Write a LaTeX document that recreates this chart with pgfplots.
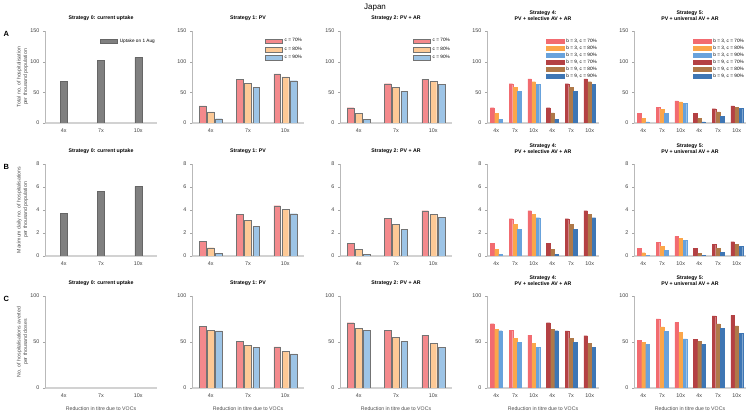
\documentclass[border=0pt]{standalone}
\usepackage{pgfplots}
\pgfplotsset{compat=1.18}
\usepackage{fontspec}
\setmainfont{Liberation Sans}
\definecolor{gbar}{RGB}{128,128,128}
\definecolor{lr}{RGB}{244,137,140}
\definecolor{lo}{RGB}{253,201,150}
\definecolor{lb}{RGB}{157,196,230}
\definecolor{rA}{RGB}{242,107,112}
\definecolor{oA}{RGB}{251,166,74}
\definecolor{bA}{RGB}{104,162,220}
\definecolor{rB}{RGB}{180,65,68}
\definecolor{oB}{RGB}{175,121,73}
\definecolor{bB}{RGB}{62,118,180}
\pgfplotsset{
  base/.style={scale only axis, width=112pt, height=92pt,
    axis x line*=bottom, axis y line*=left, xmin=0.5, ymin=0,
    xtick style={draw=none}, tick align=outside, major tick length=2pt,
    ytick style={color=gray!70},
    y axis line style={gray!55, line width=0.4pt},
    x axis line style={gray!35, line width=1.4pt},
    ticklabel style={font=\fontsize{5.4}{6}\selectfont, color=black!75},
    /pgf/number format/assume math mode=true,
    title style={font=\bfseries\fontsize{5.2}{6.2}\selectfont, align=center, at={(0.5,1)}, anchor=south, yshift=0.5pt},
    xlabel style={font=\fontsize{5.2}{6}\selectfont, color=black!70, at={(axis description cs:0.5,-0.225)}, anchor=center},
    ylabel style={font=\fontsize{5.2}{6.4}\selectfont, color=black!70, align=center, at={(axis description cs:-0.2,0.5)}, anchor=center},
    legend style={draw=none, fill=none, font=\fontsize{4.7}{5.2}\selectfont, at={(1,0.94)}, anchor=north east, row sep=-0.6pt, inner sep=0pt, cells={anchor=west}},
    legend image code/.code={\draw[#1] (0pt,-2.4pt) rectangle (17pt,2.4pt);},
  },
  leg6/.style={legend style={row sep=-1.9pt}, legend image code/.code={\draw[##1] (0pt,-2.0pt) rectangle (18pt,2.0pt);}},
  three/.style={base, xmax=3.5, xtick={1,2,3}, xticklabels={4x,7x,10x}},
  six/.style={base, xmax=6.5, xtick={1,2,3,4,5,6}, xticklabels={4x,7x,10x,4x,7x,10x}},
  bw/.style={ybar, bar width=0.18},
  gb/.style={ybar, bar width=0.19, bar shift=0, fill=gbar, draw=black!60, line width=0.3pt},
  pr/.style={bw, bar shift=-0.22, fill=lr, draw=black!55, line width=0.3pt},
  po/.style={bw, bar shift=0, fill=lo, draw=black!55, line width=0.3pt},
  pb/.style={bw, bar shift=0.22, fill=lb, draw=black!55, line width=0.3pt},
  qrA/.style={ybar, bar width=0.19, bar shift=-0.22, fill=rA, draw=rA, line width=0.1pt},
  qoA/.style={ybar, bar width=0.19, bar shift=0, fill=oA, draw=oA, line width=0.1pt},
  qbA/.style={ybar, bar width=0.19, bar shift=0.22, fill=bA, draw=bA, line width=0.1pt},
  qrB/.style={ybar, bar width=0.19, bar shift=-0.22, fill=rB, draw=rB, line width=0.1pt},
  qoB/.style={ybar, bar width=0.19, bar shift=0, fill=oB, draw=oB, line width=0.1pt},
  qbB/.style={ybar, bar width=0.19, bar shift=0.22, fill=bB, draw=bB, line width=0.1pt},
}
\begin{document}
\begin{tikzpicture}[x=1pt,y=1pt]
\useasboundingbox (0pt,0pt) rectangle (750pt,411pt);
\node[font=\fontsize{8}{9}\selectfont] at (375pt,403pt) {Japan};
\node[font=\bfseries\fontsize{7.5}{8}\selectfont, anchor=north west] at (0pt,383pt) {A};
\node[font=\bfseries\fontsize{7.5}{8}\selectfont, anchor=north west] at (0pt,250pt) {B};
\node[font=\bfseries\fontsize{7.5}{8}\selectfont, anchor=north west] at (0pt,118pt) {C};

% ===== Row A =====
\begin{axis}[three, at={(45pt,288pt)}, anchor=south west, ymax=150, ytick={0,50,100,150},
  title={Strategy 0: current uptake},
  ylabel={Total no. of hospitalisation\\per thousand population}]
\addplot[gb] coordinates {(1,68) (2,102) (3,107)};
\addlegendentry{Uptake on 1 Aug}
\end{axis}
\begin{axis}[three, at={(192pt,288pt)}, anchor=south west, ymax=150, ytick={0,50,100,150},
  title={Strategy 1: PV}]
\addplot[pr] coordinates {(1,28) (2,71) (3,80)};
\addplot[po] coordinates {(1,18) (2,65) (3,75)};
\addplot[pb] coordinates {(1,7) (2,58) (3,69)};
\legend{c = 70\%, c = 80\%, c = 90\%}
\end{axis}
\begin{axis}[three, at={(340pt,288pt)}, anchor=south west, ymax=150, ytick={0,50,100,150},
  title={Strategy 2: PV + AR}]
\addplot[pr] coordinates {(1,25) (2,64) (3,71.5)};
\addplot[po] coordinates {(1,16) (2,58) (3,67.5)};
\addplot[pb] coordinates {(1,6) (2,52) (3,63)};
\legend{c = 70\%, c = 80\%, c = 90\%}
\end{axis}
\begin{axis}[six, leg6, at={(487pt,288pt)}, anchor=south west, ymax=150, ytick={0,50,100,150},
  title={Strategy 4:\\PV + selective AV + AR}]
\addplot[qrA] coordinates {(1,25) (2,64) (3,72)};
\addplot[qoA] coordinates {(1,16) (2,58) (3,67.5)};
\addplot[qbA] coordinates {(1,6) (2,52) (3,63)};
\addplot[qrB] coordinates {(4,25) (5,64) (6,72)};
\addplot[qoB] coordinates {(4,16.5) (5,58) (6,67.5)};
\addplot[qbB] coordinates {(4,6) (5,52) (6,63)};
\legend{{b = 3, c = 70\%},{b = 3, c = 80\%},{b = 3, c = 90\%},{b = 9, c = 70\%},{b = 9, c = 80\%},{b = 9, c = 90\%}}
\end{axis}
\begin{axis}[six, leg6, at={(634pt,288pt)}, anchor=south west, ymax=150, ytick={0,50,100,150},
  title={Strategy 5:\\PV + universal AV + AR}]
\addplot[qrA] coordinates {(1,16) (2,26) (3,36)};
\addplot[qoA] coordinates {(1,8) (2,22.5) (3,34.5)};
\addplot[qbA] coordinates {(1,2) (2,16) (3,32)};
\addplot[qrB] coordinates {(4,15.5) (5,23.5) (6,28)};
\addplot[qoB] coordinates {(4,8) (5,18) (6,26)};
\addplot[qbB] coordinates {(4,2) (5,11) (6,24)};
\legend{{b = 3, c = 70\%},{b = 3, c = 80\%},{b = 3, c = 90\%},{b = 9, c = 70\%},{b = 9, c = 80\%},{b = 9, c = 90\%}}
\end{axis}

% ===== Row B =====
\begin{axis}[three, at={(45pt,155pt)}, anchor=south west, ymax=8, ytick={0,2,4,6,8},
  title={Strategy 0: current uptake},
  ylabel={Maximum daily no. of hospitalisations\\per thousand population}]
\addplot[gb] coordinates {(1,3.7) (2,5.6) (3,6.05)};
\end{axis}
\begin{axis}[three, at={(192pt,155pt)}, anchor=south west, ymax=8, ytick={0,2,4,6,8},
  title={Strategy 1: PV}]
\addplot[pr] coordinates {(1,1.3) (2,3.6) (3,4.37)};
\addplot[po] coordinates {(1,0.72) (2,3.12) (3,4.03)};
\addplot[pb] coordinates {(1,0.23) (2,2.56) (3,3.68)};
\end{axis}
\begin{axis}[three, at={(340pt,155pt)}, anchor=south west, ymax=8, ytick={0,2,4,6,8},
  title={Strategy 2: PV + AR}]
\addplot[pr] coordinates {(1,1.12) (2,3.25) (3,3.94)};
\addplot[po] coordinates {(1,0.6) (2,2.74) (3,3.63)};
\addplot[pb] coordinates {(1,0.14) (2,2.3) (3,3.34)};
\end{axis}
\begin{axis}[six, at={(487pt,155pt)}, anchor=south west, ymax=8, ytick={0,2,4,6,8},
  title={Strategy 4:\\PV + selective AV + AR}]
\addplot[qrA] coordinates {(1,1.12) (2,3.25) (3,3.94)};
\addplot[qoA] coordinates {(1,0.6) (2,2.76) (3,3.63)};
\addplot[qbA] coordinates {(1,0.14) (2,2.3) (3,3.34)};
\addplot[qrB] coordinates {(4,1.12) (5,3.25) (6,3.94)};
\addplot[qoB] coordinates {(4,0.6) (5,2.76) (6,3.62)};
\addplot[qbB] coordinates {(4,0.14) (5,2.3) (6,3.34)};
\end{axis}
\begin{axis}[six, at={(634pt,155pt)}, anchor=south west, ymax=8, ytick={0,2,4,6,8},
  title={Strategy 5:\\PV + universal AV + AR}]
\addplot[qrA] coordinates {(1,0.69) (2,1.18) (3,1.7)};
\addplot[qoA] coordinates {(1,0.29) (2,0.86) (3,1.53)};
\addplot[qbA] coordinates {(1,0.06) (2,0.49) (3,1.38)};
\addplot[qrB] coordinates {(4,0.69) (5,1.04) (6,1.24)};
\addplot[qoB] coordinates {(4,0.26) (5,0.69) (6,1.04)};
\addplot[qbB] coordinates {(4,0.06) (5,0.32) (6,0.86)};
\end{axis}

% ===== Row C =====
\begin{axis}[three, at={(45pt,23pt)}, anchor=south west, ymax=100, ytick={0,50,100},
  title={Strategy 0: current uptake},
  ylabel={No. of hospitalisations averted\\per thousand doses},
  xlabel={Reduction in titre due to VOCs}]
\addplot[draw=none, forget plot] coordinates {(1,0) (3,0)};
\end{axis}
\begin{axis}[three, at={(192pt,23pt)}, anchor=south west, ymax=100, ytick={0,50,100},
  title={Strategy 1: PV}, xlabel={Reduction in titre due to VOCs}]
\addplot[pr] coordinates {(1,66.7) (2,50.5) (3,44.7)};
\addplot[po] coordinates {(1,62.6) (2,46.2) (3,40)};
\addplot[pb] coordinates {(1,62) (2,44) (3,37)};
\end{axis}
\begin{axis}[three, at={(340pt,23pt)}, anchor=south west, ymax=100, ytick={0,50,100},
  title={Strategy 2: PV + AR}, xlabel={Reduction in titre due to VOCs}]
\addplot[pr] coordinates {(1,71) (2,62.6) (3,57.5)};
\addplot[po] coordinates {(1,64.8) (2,54.9) (3,48.7)};
\addplot[pb] coordinates {(1,62.6) (2,50.5) (3,44)};
\end{axis}
\begin{axis}[six, at={(487pt,23pt)}, anchor=south west, ymax=100, ytick={0,50,100},
  title={Strategy 4:\\PV + selective AV + AR}, xlabel={Reduction in titre due to VOCs}]
\addplot[qrA] coordinates {(1,70) (2,62.6) (3,57.5)};
\addplot[qoA] coordinates {(1,64.1) (2,54.2) (3,48.7)};
\addplot[qbA] coordinates {(1,62.3) (2,49.8) (3,44)};
\addplot[qrB] coordinates {(4,71) (5,62) (6,57)};
\addplot[qoB] coordinates {(4,64.1) (5,54.2) (6,48.7)};
\addplot[qbB] coordinates {(4,62.3) (5,49.8) (6,44)};
\end{axis}
\begin{axis}[six, at={(634pt,23pt)}, anchor=south west, ymax=100, ytick={0,50,100},
  title={Strategy 5:\\PV + universal AV + AR}, xlabel={Reduction in titre due to VOCs}]
\addplot[qrA] coordinates {(1,52) (2,75) (3,71.4)};
\addplot[qoA] coordinates {(1,49.8) (2,66.3) (3,60.4)};
\addplot[qbA] coordinates {(1,47.6) (2,61.5) (3,53.5)};
\addplot[qrB] coordinates {(4,52.7) (5,78.4) (6,79)};
\addplot[qoB] coordinates {(4,50.5) (5,69.6) (6,67.4)};
\addplot[qbB] coordinates {(4,47.6) (5,64.8) (6,59.7)};
\end{axis}
\end{tikzpicture}
\end{document}
